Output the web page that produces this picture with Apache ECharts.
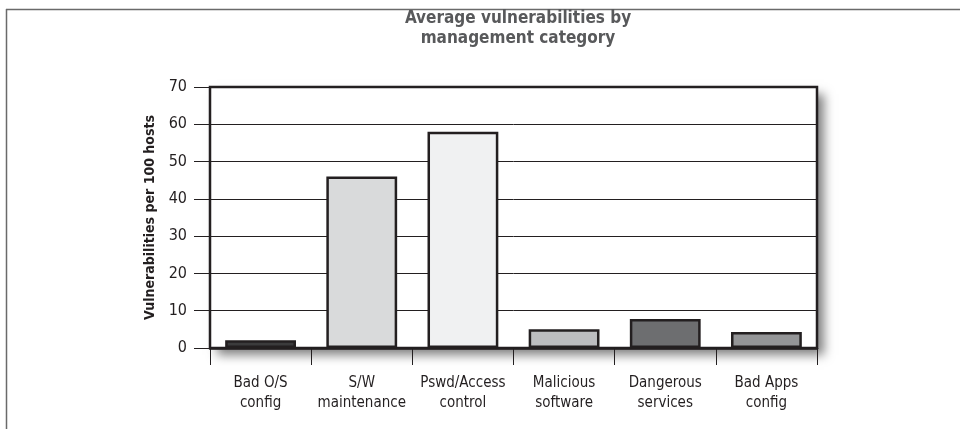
<!DOCTYPE html>
<html>
<head>
<meta charset="utf-8">
<script src="https://cdn.jsdelivr.net/npm/echarts@6/dist/echarts.min.js"></script>
<style>html,body{margin:0;padding:0;background:#fff;}#c{width:960px;height:429px;}</style>
</head>
<body>
<div id="c"></div>
<script>
const titleText = 'Average vulnerabilities by\nmanagement category';
const yAxisName = 'Vulnerabilities per 100 hosts';
const categories = ['Bad O/S\nconfig', 'S/W\nmaintenance', 'Pswd/Access\ncontrol', 'Malicious\nsoftware', 'Dangerous\nservices', 'Bad Apps\nconfig'];
const values = [2.1, 46.0, 58.0, 5.0, 7.8, 4.3];
const barColors = ['#3b3b3c', '#d9dadb', '#f0f1f2', '#bcbdbf', '#6d6e70', '#949597'];
const yTicks = [0, 10, 20, 30, 40, 50, 60, 70];

const FONT = '"Liberation Sans Narrow", "DejaVu Sans Condensed", "Roboto Condensed", sans-serif';
const INK = '#231f20';
const G = {left: 210, top: 87, width: 607, height: 261};

const chart = echarts.init(document.getElementById('c'), null, {renderer: 'canvas'});
chart.setOption({
  animation: false,
  backgroundColor: '#fff',
  textStyle: {fontFamily: FONT},
  title: {
    text: titleText,
    left: 513, top: 4, textAlign: 'center',
    textStyle: {fontFamily: FONT, fontSize: 17, fontWeight: 'bold', color: '#58595b', lineHeight: 20}
  },
  graphic: [
    {type: 'line', shape: {x1: 6, y1: 9.5, x2: 960, y2: 9.5}, style: {stroke: '#6a6a6a', lineWidth: 1.5}, silent: true, z: -10},
    {type: 'line', shape: {x1: 6.5, y1: 9, x2: 6.5, y2: 429}, style: {stroke: '#6a6a6a', lineWidth: 1.5}, silent: true, z: -10},
    {type: 'rect', shape: {x: G.left, y: G.top, width: G.width, height: G.height},
     style: {fill: '#ffffff', shadowBlur: 10, shadowColor: 'rgba(0,0,0,0.5)', shadowOffsetX: 7, shadowOffsetY: 7},
     silent: true, z: -10}
  ],
  grid: {
    left: G.left, top: G.top, width: G.width, height: G.height,
    show: true, backgroundColor: '#fff',
    borderColor: INK, borderWidth: 2.5
  },
  xAxis: {
    type: 'category', data: categories,
    axisLine: {show: true, lineStyle: {color: INK, width: 2.5}},
    axisTick: {show: true, length: 17, interval: 0, lineStyle: {color: INK, width: 1}},
    axisLabel: {interval: 0, margin: 25, fontFamily: FONT, fontSize: 15, color: INK, lineHeight: 20}
  },
  yAxis: {
    type: 'value', min: yTicks[0], max: yTicks[yTicks.length - 1], interval: 10,
    name: yAxisName, nameLocation: 'middle', nameGap: 52, nameRotate: 90,
    nameTextStyle: {fontFamily: FONT, fontSize: 14, fontWeight: 'bold', color: INK},
    axisLine: {show: false},
    axisTick: {show: true, length: 16, lineStyle: {color: INK, width: 1}},
    axisLabel: {margin: 23, fontFamily: FONT, fontSize: 16, color: INK},
    splitLine: {show: true, lineStyle: {color: INK, width: 1}}
  },
  series: [{
    type: 'bar', barWidth: '70%',
    data: values.map((v, i) => ({value: v, itemStyle: {color: barColors[i], borderColor: INK, borderWidth: 2.5}}))
  }]
});
</script>
</body>
</html>
